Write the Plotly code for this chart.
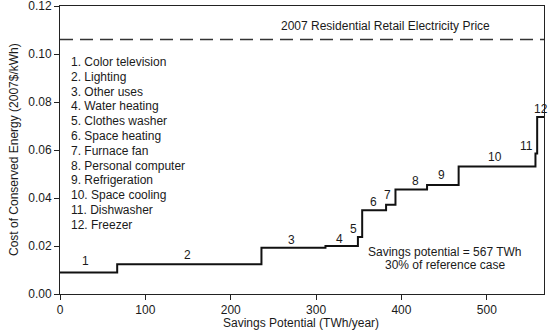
import numpy as np
import plotly.graph_objects as go

# ---- data ----
measures = ["Color television", "Lighting", "Other uses", "Water heating",
            "Clothes washer", "Space heating", "Furnace fan", "Personal computer",
            "Refrigeration", "Space cooling", "Dishwasher", "Freezer"]
savings_twh = [67, 169, 75, 38, 5, 28, 11, 37, 37, 90, 2, 8]
cost_per_kwh = [0.0090, 0.0124, 0.0193, 0.0200, 0.0238, 0.0349, 0.0372,
                0.0435, 0.0454, 0.0531, 0.0585, 0.0738]
retail_price = 0.106
total_savings = 567
x_ticks = [0, 100, 200, 300, 400, 500]
y_ticks = [0.00, 0.02, 0.04, 0.06, 0.08, 0.10, 0.12]

# label tweaks (pixel shifts)
label_xshift = [-3, -2, -2, -2, -7, -1, -3, 4, -1, -2, -10, 0]
label_yshift = [11, 9, 8, 7, 8, 8, 10, 9, 10, 10, 8, 8]

FONT = "Liberation Sans, Arial, Helvetica, sans-serif"
TXT = "#1a1a1a"

edges = np.concatenate([[0], np.cumsum(savings_twh)])
xs = edges
ys = list(cost_per_kwh) + [cost_per_kwh[-1]]

fig = go.Figure()
fig.add_trace(go.Scatter(x=xs, y=ys, mode="lines", line_shape="hv",
                         line=dict(color="#111111", width=2), hoverinfo="skip",
                         showlegend=False, cliponaxis=False))

# retail price dashed line
fig.add_trace(go.Scatter(x=[0, total_savings], y=[retail_price, retail_price], mode="lines",
                         line=dict(color="#333333", width=1.5, dash="13px,7px"),
                         showlegend=False, hoverinfo="skip"))

ann = []
mids = (edges[:-1] + edges[1:]) / 2
for i, (m, c) in enumerate(zip(mids, cost_per_kwh)):
    ann.append(dict(x=m, y=c, text=str(i + 1), showarrow=False, xanchor="center",
                    yanchor="middle", xshift=label_xshift[i], yshift=label_yshift[i],
                    font=dict(size=12, color=TXT, family=FONT)))

for i, name in enumerate(measures):
    ann.append(dict(x=10.5, y=0.0967 - i * 0.00617, text=f"{i + 1}. {name}", showarrow=False,
                    xanchor="left", yanchor="middle",
                    font=dict(size=12, color=TXT, family=FONT)))

ann.append(dict(x=505.5, y=0.1115, text="2007 Residential Retail Electricity Price",
                showarrow=False, xanchor="right", yanchor="middle",
                font=dict(size=12, color=TXT, family=FONT)))
ann.append(dict(x=451.5, y=0.0175, text=f"Savings potential = {total_savings} TWh",
                showarrow=False, xanchor="center", yanchor="middle",
                font=dict(size=12, color=TXT, family=FONT)))
ann.append(dict(x=451.5, y=0.0120, text="30% of reference case",
                showarrow=False, xanchor="center", yanchor="middle",
                font=dict(size=12, color=TXT, family=FONT)))

# axis titles as annotations for exact placement
ann.append(dict(xref="paper", yref="paper", x=0.5, y=0, yshift=-29, xshift=-1,
                text="Savings Potential (TWh/year)", showarrow=False,
                xanchor="center", yanchor="middle",
                font=dict(size=12, color=TXT, family=FONT)))
ann.append(dict(xref="paper", yref="paper", x=0, y=0.5, xshift=-46,
                text="Cost of Conserved Energy (2007$/kWh)", showarrow=False,
                textangle=-90, xanchor="center", yanchor="middle",
                font=dict(size=12, color=TXT, family=FONT)))

fig.update_layout(
    width=548, height=335,
    margin=dict(l=60, r=4, t=6, b=41, autoexpand=False),
    paper_bgcolor="white", plot_bgcolor="white",
    font=dict(family=FONT, size=12, color=TXT),
    annotations=ann,
    xaxis=dict(range=[0, total_savings], tickvals=x_ticks, ticks="outside", ticklen=5,
               tickcolor="#222", showline=True, linecolor="#222", linewidth=1,
               mirror=True, showgrid=False, zeroline=False, automargin=False,
               ticklabeloverflow="allow",
               tickfont=dict(size=12, color=TXT, family=FONT)),
    yaxis=dict(range=[0, 0.12], tickvals=y_ticks, tickformat=".2f", ticks="outside",
               ticklen=5, tickcolor="#222", showline=True, linecolor="#222", linewidth=1,
               mirror=True, showgrid=False, zeroline=False, automargin=False,
               ticklabeloverflow="allow",
               tickfont=dict(size=12, color=TXT, family=FONT)),
)

fig.write_html("out.html", config={"displayModeBar": False},
               post_script="document.body.style.margin='0';document.body.style.overflow='hidden';")
